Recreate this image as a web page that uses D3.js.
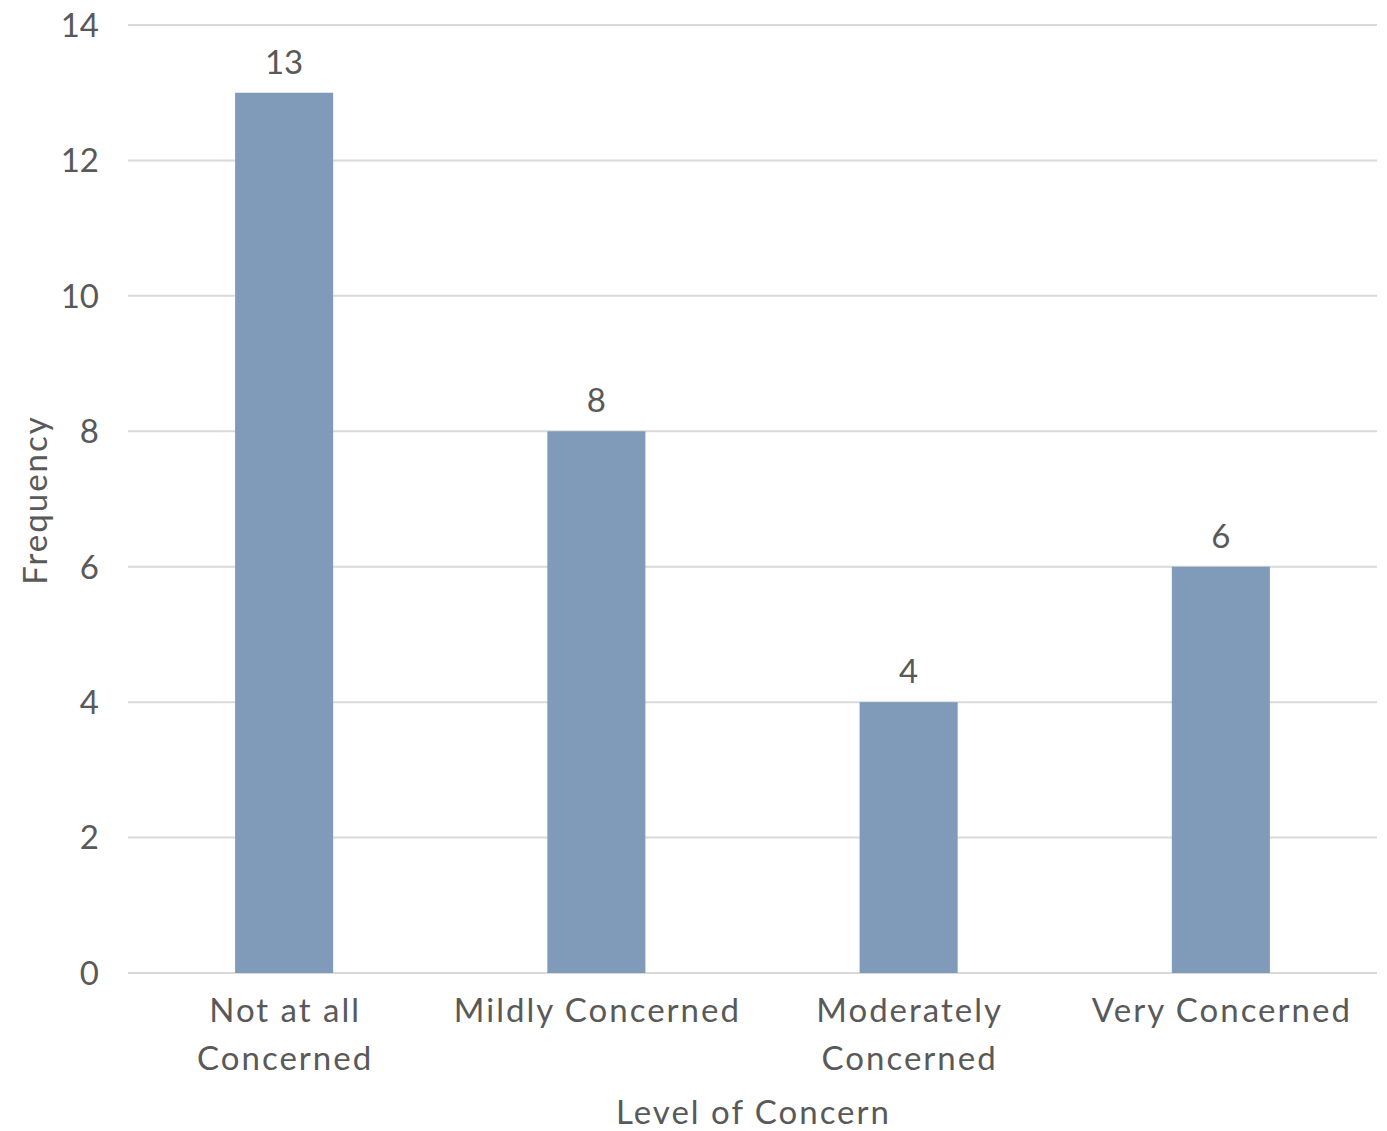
<!DOCTYPE html>
<html><head><meta charset="utf-8">
<script src="https://cdn.jsdelivr.net/npm/d3@7"></script>
<style>body{margin:0;background:#fff}svg text{font-family:Lato,sans-serif;fill:#595959}</style>
</head><body><svg id="c" width="1387" height="1131"></svg>
<script>
const categories = [["Not at all","Concerned"],["Mildly Concerned"],["Moderately","Concerned"],["Very Concerned"]];
const values = [13, 8, 4, 6];
const yTicks = [0, 2, 4, 6, 8, 10, 12, 14];
const xTitle = "Level of Concern";
const yTitle = "Frequency";

(function(){
const svg = d3.select("#c");
const mLeft = 128, mRight = 1377, mTop = 25, mBottom = 973;
const keys = categories.map((c,i)=>i);
const x = d3.scaleBand().domain(keys).range([mLeft, mRight]).paddingInner(0.686).paddingOuter(0.343);
const y = d3.scaleLinear().domain([0, 14]).range([mBottom, mTop]);

// gridlines
svg.append("g").selectAll("line").data(yTicks).join("line")
  .attr("x1", mLeft).attr("x2", mRight)
  .attr("y1", d=>y(d)).attr("y2", d=>y(d))
  .attr("stroke", "#d9d9d9").attr("stroke-width", 2);

// y tick labels
svg.append("g").selectAll("text").data(yTicks).join("text")
  .attr("x", 99).attr("y", d=>y(d)).attr("dy", "0.36em")
  .attr("text-anchor", "end").attr("font-size", 33).text(d=>d);

// bars
svg.append("g").selectAll("rect").data(values).join("rect")
  .attr("x", (d,i)=>x(i)).attr("width", x.bandwidth())
  .attr("y", d=>y(d)).attr("height", d=>y(0)-y(d))
  .attr("fill", "#7f9bb9");

// value labels
svg.append("g").selectAll("text").data(values).join("text")
  .attr("x", (d,i)=>x(i)+x.bandwidth()/2).attr("y", d=>y(d)-19)
  .attr("text-anchor", "middle").attr("font-size", 33).text(d=>d);

// category labels
const cl = svg.append("g").selectAll("text").data(categories).join("text")
  .attr("x", (d,i)=>x(i)+x.bandwidth()/2 + 1).attr("y", 1022)
  .attr("text-anchor", "middle").attr("font-size", 33).attr("letter-spacing", 2);
cl.selectAll("tspan").data(d=>d).join("tspan")
  .attr("x", function(){return this.parentNode.getAttribute("x");})
  .attr("dy", (d,i)=>i===0?0:48).text(d=>d);

// axis titles
svg.append("text").attr("x", (mLeft+mRight)/2 + 1).attr("y", 1124)
  .attr("text-anchor", "middle").attr("font-size", 33).attr("letter-spacing", 2).text(xTitle);
svg.append("text").attr("transform", "translate(47,500) rotate(-90)")
  .attr("text-anchor", "middle").attr("font-size", 33).attr("letter-spacing", 2).text(yTitle);
})();
</script></body></html>
